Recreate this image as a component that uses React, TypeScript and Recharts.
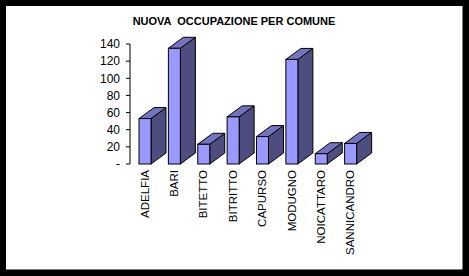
import React from 'react';
import { BarChart, Bar, XAxis, YAxis } from 'recharts';

// Comuni e nuova occupazione
const comuni = ['ADELFIA', 'BARI', 'BITETTO', 'BITRITTO', 'CAPURSO', 'MODUGNO', 'NOICATTARO', 'SANNICANDRO'];
const occupazione = [53, 135, 23, 55, 32, 122, 12, 24];
const yTicks = [0, 20, 40, 60, 80, 100, 120, 140];
const titolo = 'NUOVA  OCCUPAZIONE PER COMUNE';

const data = comuni.map((comune, i) => ({ comune, valore: occupazione[i] }));

const FONT = '"Liberation Sans", Arial, sans-serif';
const DX = 15; // profondità 3D
const DY = 11;

// Barra in stile Excel 3D: fronte, lato e tetto
const Bar3D = (props: any) => {
  const { x, y, width, height } = props;
  if (height == null || width == null) return null;
  const r = x + width;
  const b = y + height;
  return (
    <g stroke="#000" strokeWidth={1}>
      <polygon points={`${r},${y} ${r + DX},${y - DY} ${r + DX},${b - DY} ${r},${b}`} fill="#4D4D80" />
      <polygon points={`${x},${y} ${x + DX},${y - DY} ${r + DX},${y - DY} ${r},${y}`} fill="#7373C0" />
      <rect x={x} y={y} width={width} height={height} fill="#9999FF" />
    </g>
  );
};

const CategoryTick = (props: any) => {
  const { x, y, payload } = props;
  const tx = x + 4;
  const ty = y - 2;
  return (
    <text x={tx} y={ty} transform={`rotate(-90 ${tx} ${ty})`} textAnchor="end"
      fontFamily={FONT} fontSize={11.5} fill="#000">
      {payload.value}
    </text>
  );
};

const App: React.FC = () => (
  <div style={{ position: 'fixed', left: 0, top: 0, width: 469, height: 276, background: '#fff' }}>
    <BarChart width={469} height={276} data={data} margin={{ top: 44, right: 104, left: 70, bottom: 0 }}
      barCategoryGap={0}>
      <XAxis dataKey="comune" axisLine={false} tickLine={false} height={112} interval={0}
        tick={<CategoryTick />} />
      <YAxis width={60} domain={[0, 140]} ticks={yTicks} interval={0}
        tickFormatter={(v: number) => (v === 0 ? '-' : String(v))}
        axisLine={{ stroke: '#000' }} tickLine={{ stroke: '#000' }} tickSize={4} tickMargin={6}
        tick={{ fill: '#000', fontSize: 12, fontFamily: FONT }} />
      <Bar dataKey="valore" barSize={12} shape={<Bar3D />} isAnimationActive={false} />
    </BarChart>
    <svg width={469} height={276} style={{ position: 'absolute', left: 0, top: 0, pointerEvents: 'none' }}>
      <text x={234} y={25} textAnchor="middle" fontFamily={FONT} fontSize={11} fontWeight="bold" fill="#000"
        style={{ whiteSpace: 'pre' }}>
        {titolo}
      </text>
      <path d="M0,0 H469 V276 H0 Z M6,6 V269.5 H462.5 V6 Z" fill="#000" fillRule="evenodd" />
    </svg>
  </div>
);

export default App;
